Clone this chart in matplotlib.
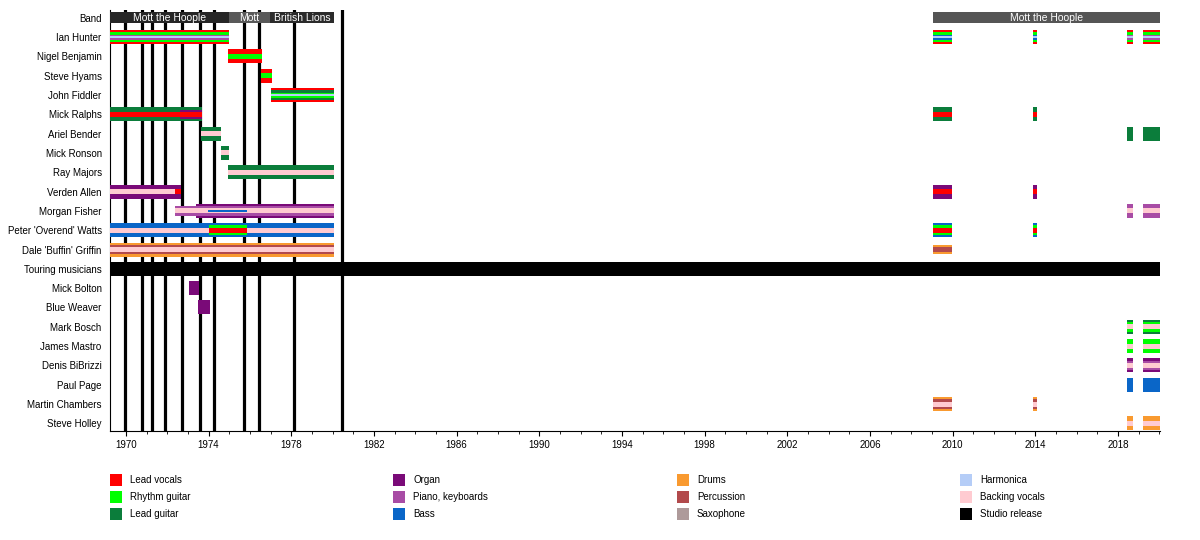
"""Mott the Hoople - Besetzungs-Zeitleiste (matplotlib)."""
import matplotlib

matplotlib.use("Agg")
import matplotlib.pyplot as plt  # noqa: E402
from matplotlib.patches import Rectangle  # noqa: E402

plt.rcParams["font.family"] = ["Liberation Sans", "DejaVu Sans"]

# --- data -----------------------------------------------------------------
ROWS = [
    "Band", "Ian Hunter", "Nigel Benjamin", "Steve Hyams", "John Fiddler",
    "Mick Ralphs", "Ariel Bender", "Mick Ronson", "Ray Majors", "Verden Allen",
    "Morgan Fisher", "Peter 'Overend' Watts", "Dale 'Buffin' Griffin",
    "Touring musicians", "Mick Bolton", "Blue Weaver", "Mark Bosch",
    "James Mastro", "Denis BiBrizzi", "Paul Page", "Martin Chambers",
    "Steve Holley",
]

PERIOD = (1969.23, 2020.03)

BAND_NAMES = ["Mott the Hoople", "Mott", "British Lions", "Mott the Hoople"]
BAND_FROM = [1969.23, 1974.98, 1976.97, 2009.03]
BAND_TILL = [1974.98, 1976.97, 1980.07, 2020.03]

RELEASES = [1969.95, 1970.79, 1971.27, 1971.90, 1972.72, 1973.58, 1974.27,
            1975.72, 1976.45, 1978.13, 1980.46]

ROLES = ["Lead vocals", "Rhythm guitar", "Lead guitar",
         "Organ", "Piano, keyboards", "Bass",
         "Drums", "Percussion", "Saxophone",
         "Harmonica", "Backing vocals", "Studio release"]
ROLE_COLORS = ["#ff0000", "#00ff00", "#0b7d3b",
               "#7a0a78", "#a84ca5", "#0a66c8",
               "#f99a30", "#b24a4c", "#ae9a9a",
               "#b5cdf7", "#ffcbd1", "#000000"]

R2009 = (2009.03, 2009.96)
R2013 = (2013.87, 2014.07)
R2018 = (2018.45, 2018.74)
R2019 = (2019.21, 2020.03)

HUNTER_ROLES = ["Lead vocals", "Rhythm guitar", "Piano, keyboards", "Harmonica"]
HUNTER_2009 = ["Lead vocals", "Rhythm guitar", "Bass", "Harmonica"]

PERIODS = {
    "Ian Hunter": [
        (1969.23, 1974.98, HUNTER_ROLES),
        (*R2009, HUNTER_2009),
        (*R2013, HUNTER_2009),
        (*R2018, HUNTER_ROLES),
        (*R2019, HUNTER_ROLES),
    ],
    "Nigel Benjamin": [(1974.95, 1976.58, ["Lead vocals", "Rhythm guitar"])],
    "Steve Hyams": [(1976.55, 1977.06, ["Lead vocals", "Rhythm guitar"])],
    "John Fiddler": [
        (1977.02, 1980.07,
         ["Lead vocals", "Lead guitar", "Rhythm guitar", "Harmonica"]),
    ],
    "Mick Ralphs": [
        (1969.23, 1972.61, ["Lead guitar", "Lead vocals"]),
        (1972.61, 1973.66, ["Lead guitar", "Organ", "Lead vocals"]),
        (*R2009, ["Lead guitar", "Lead vocals"]),
        (*R2013, ["Lead guitar", "Lead vocals"]),
    ],
    "Ariel Bender": [
        (1973.63, 1974.58, ["Lead guitar", "Backing vocals"]),
        (*R2018, ["Lead guitar"]),
        (*R2019, ["Lead guitar"]),
    ],
    "Mick Ronson": [(1974.58, 1974.98, ["Lead guitar", "Backing vocals"])],
    "Ray Majors": [(1974.93, 1980.07, ["Lead guitar", "Backing vocals"])],
    "Verden Allen": [
        (1969.23, 1972.37, ["Organ", "Backing vocals"]),
        (1972.37, 1972.66, ["Organ", "Lead vocals"]),
        (*R2009, ["Organ", "Lead vocals"]),
        (*R2013, ["Organ", "Lead vocals"]),
    ],
    "Morgan Fisher": [
        (1972.37, 1973.39, [None, "Piano, keyboards", "Backing vocals"]),
        (1973.39, 1973.97, ["Organ", "Piano, keyboards", "Backing vocals"]),
        (1973.97, 1975.88,
         ["Organ", "Piano, keyboards", "Backing vocals", "Bass"]),
        (1975.88, 1980.07, ["Organ", "Piano, keyboards", "Backing vocals"]),
        (*R2018, ["Piano, keyboards", "Backing vocals"]),
        (*R2019, ["Piano, keyboards", "Backing vocals"]),
    ],
    "Peter 'Overend' Watts": [
        (1969.23, 1974.02, ["Bass", "Backing vocals"]),
        (1974.02, 1975.84, ["Bass", "Rhythm guitar", "Lead vocals"]),
        (1975.84, 1980.07, ["Bass", "Backing vocals"]),
        (*R2009, ["Bass", "Rhythm guitar", "Lead vocals"]),
        (*R2013, ["Bass", "Rhythm guitar", "Lead vocals"]),
    ],
    "Dale 'Buffin' Griffin": [
        (1969.23, 1980.07, ["Drums", "Percussion", "Backing vocals"]),
        (*R2009, [None, "Drums", "Percussion"]),
    ],
    "Mick Bolton": [(1973.05, 1973.53, ["Organ"])],
    "Blue Weaver": [(1973.50, 1974.06, ["Organ"])],
    "Mark Bosch": [
        (*R2018, ["Lead guitar", "Rhythm guitar", "Backing vocals"]),
        (*R2019, ["Lead guitar", "Rhythm guitar", "Backing vocals"]),
    ],
    "James Mastro": [
        (*R2018, ["Rhythm guitar", "Backing vocals"]),
        (*R2019, ["Rhythm guitar", "Backing vocals"]),
    ],
    "Denis BiBrizzi": [
        (*R2018, ["Organ", "Piano, keyboards", "Backing vocals"]),
        (*R2019, ["Organ", "Piano, keyboards", "Backing vocals"]),
    ],
    "Paul Page": [(*R2018, ["Bass"]), (*R2019, ["Bass"])],
    "Martin Chambers": [
        (*R2009, ["Drums", "Percussion", "Backing vocals"]),
        (*R2013, ["Drums", "Percussion", "Backing vocals"]),
    ],
    "Steve Holley": [
        (*R2018, ["Drums", "Backing vocals"]),
        (*R2019, ["Drums", "Backing vocals"]),
    ],
}

# --- layout (pixel based, figure is 1200 x 540) ---------------------------
W, H = 1200, 540
ROW_PX = 19.31
FIRST_ROW_Y = 17.8
PLOT_TOP, PLOT_BOTTOM = 10, 430.5
# bar thickness per layer, depending on how many roles are stacked
LAYER_PX = {1: [14], 2: [14, 5], 3: [14, 9.5, 5], 4: [14, 9.5, 5, 2]}
BAND_PX = 11
BAND_SHADES = ["#262626", "#595959", "#2b2b2b", "#555555"]

color_of = dict(zip(ROLES, ROLE_COLORS))

fig = plt.figure(figsize=(W / 100, H / 100), dpi=100)
ax = fig.add_axes([110 / W, 1 - PLOT_BOTTOM / H, 1050 / W,
                   (PLOT_BOTTOM - PLOT_TOP) / H])
y_top = -(FIRST_ROW_Y - PLOT_TOP) / ROW_PX
y_bottom = (PLOT_BOTTOM - FIRST_ROW_Y) / ROW_PX
ax.set_xlim(*PERIOD)
ax.set_ylim(y_bottom, y_top)

# studio releases behind everything
for year in RELEASES:
    ax.axvline(year, color="black", lw=2.3, zorder=1)

# band bar
band_row = ROWS.index("Band")
for name, start, end, shade in zip(BAND_NAMES, BAND_FROM, BAND_TILL, BAND_SHADES):
    ax.barh(band_row, end - start, left=start, height=BAND_PX / ROW_PX,
            color=shade, lw=0, zorder=3)
    ax.text((start + end) / 2, band_row, name, color="white", fontsize=7.5,
            ha="center", va="center", zorder=4)

# members
for member, periods in PERIODS.items():
    row = ROWS.index(member)
    for start, end, roles in periods:
        widths = LAYER_PX[len(roles)]
        for k, role in enumerate(roles):
            if role is None:
                continue
            ax.barh(row, end - start, left=start,
                    height=widths[k] / ROW_PX, color=color_of[role],
                    lw=0, zorder=3 + k)

# touring musicians separator
ax.barh(ROWS.index("Touring musicians"), PERIOD[1] - PERIOD[0],
        left=PERIOD[0], height=14 / ROW_PX, color="black", lw=0, zorder=3)

ax.set_yticks(range(len(ROWS)))
ax.set_yticklabels(ROWS, fontsize=7)
ax.tick_params(axis="y", length=0, pad=6)

ax.set_xticks(range(1970, 2020, 4))
ax.set_xticks(range(1970, 2021), minor=True)
ax.tick_params(axis="x", which="major", length=3.5, width=0.8, labelsize=7,
               pad=3)
ax.tick_params(axis="x", which="minor", length=2, width=0.6)
for side in ("top", "right"):
    ax.spines[side].set_visible(False)
for side in ("left", "bottom"):
    ax.spines[side].set_linewidth(0.8)

# legend: 4 columns x 3 rows
LEG_X = [110, 393, 677, 960]
LEG_Y = [480, 497, 514]
for i, (role, col) in enumerate(zip(ROLES, ROLE_COLORS)):
    x = LEG_X[i // 3]
    y = LEG_Y[i % 3]
    fig.patches.append(Rectangle((x / W, 1 - (y + 6) / H), 12 / W, 12 / H,
                                 transform=fig.transFigure, color=col,
                                 lw=0))
    fig.text((x + 20) / W, 1 - y / H, role, fontsize=7, va="center",
             ha="left")

fig.savefig("out.png", dpi=100)
plt.close(fig)
